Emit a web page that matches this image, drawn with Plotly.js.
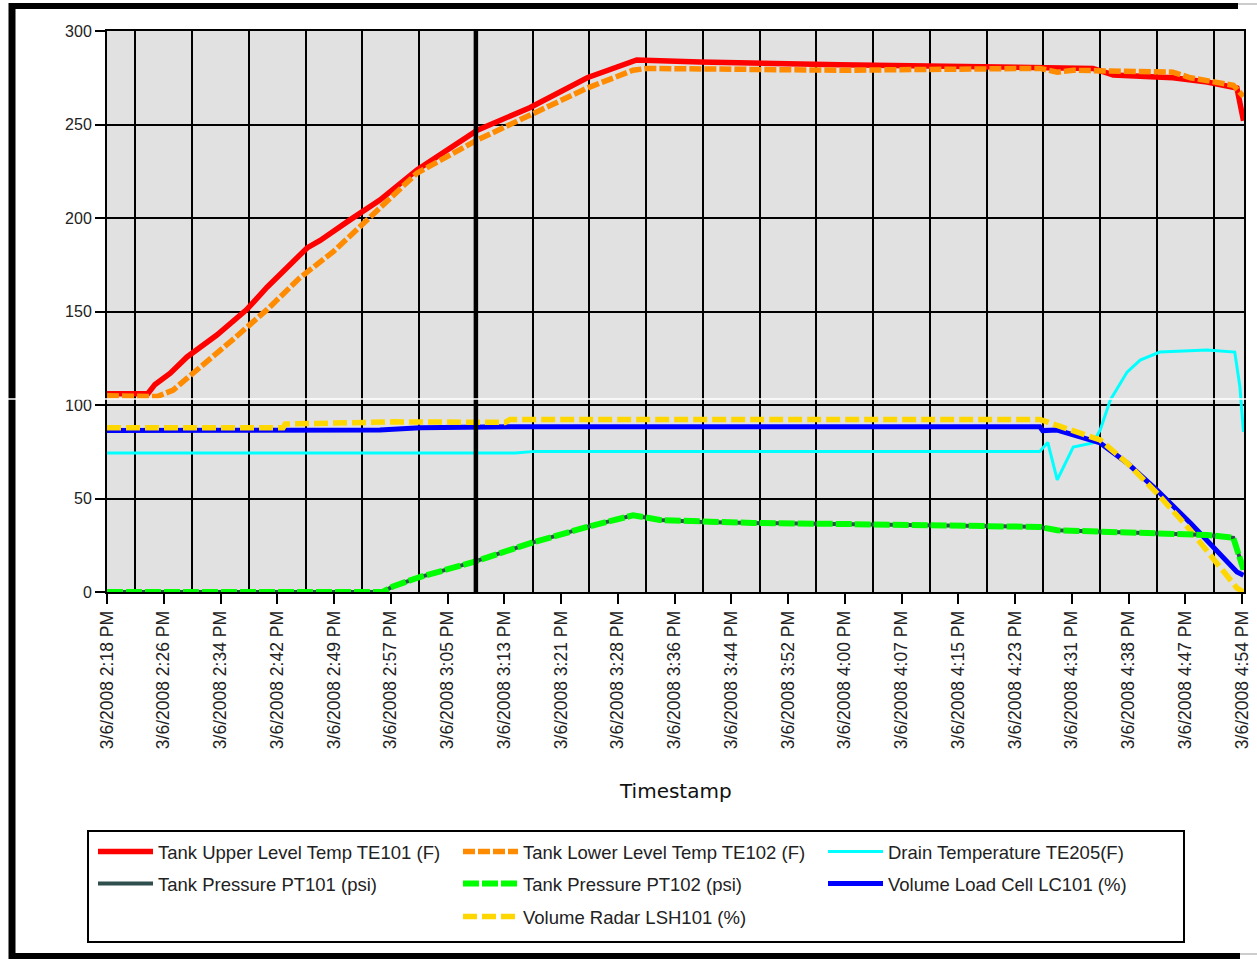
<!DOCTYPE html>
<html><head><meta charset="utf-8">
<script src="https://cdn.plot.ly/plotly-3.0.1.min.js"></script>
<style>html,body{margin:0;padding:0;background:#fff;}#chart{width:1257px;height:959px;}</style>
</head><body><div id="chart"></div>
<script>
// Category tick labels (one every ~7.8 minutes)
const tickLabels = ["3/6/2008 2:18 PM","3/6/2008 2:26 PM","3/6/2008 2:34 PM","3/6/2008 2:42 PM","3/6/2008 2:49 PM","3/6/2008 2:57 PM","3/6/2008 3:05 PM","3/6/2008 3:13 PM","3/6/2008 3:21 PM","3/6/2008 3:28 PM","3/6/2008 3:36 PM","3/6/2008 3:44 PM","3/6/2008 3:52 PM","3/6/2008 4:00 PM","3/6/2008 4:07 PM","3/6/2008 4:15 PM","3/6/2008 4:23 PM","3/6/2008 4:31 PM","3/6/2008 4:38 PM","3/6/2008 4:47 PM","3/6/2008 4:54 PM"];
const minutesPerTick = 7.8;

// Series values; x = minutes after 3/6/2008 2:18 PM
const te101X = [0, 5.6, 6.6, 8.7, 11.0, 15.1, 19.2, 22.0, 27.5, 29.3, 33.4, 37.5, 42.6, 50.9, 58.1, 66.0, 72.8, 81.5, 100.7, 128.2, 135.5, 138.3, 146.5, 151.2, 155.3, 156.2];
const te101Y = [106, 106, 111, 117, 125.7, 137.4, 151, 163, 184, 188, 199, 209.6, 225.7, 247, 259, 275, 284.5, 283.4, 282, 281, 280, 276.5, 275, 272.7, 269.5, 252];

const te102X = [0, 6.9, 9.1, 12.8, 17.3, 22.0, 26.5, 31.1, 35.7, 42.6, 50.9, 58.1, 66.0, 72.3, 74.2, 100.7, 128.2, 130.6, 132.8, 146.5, 148.9, 154.8, 156.2];
const te102Y = [105, 104.5, 108, 120, 135, 151, 168, 182, 199, 224, 241.7, 255, 269.5, 279, 280, 279, 280, 278, 279, 278, 275, 271, 265];

const te205X = [0, 56.1, 58.8, 128.2, 129.3, 130.6, 132.8, 135.5, 136.5, 137.9, 140.2, 142.0, 144.7, 151.2, 155.0, 155.7, 156.2];
const te205Y = [74.3, 74.3, 75.2, 75.2, 80, 60, 77.5, 79.7, 86.6, 102.7, 117.6, 124, 128.3, 129.4, 128.3, 110, 85.6];

const pt101X = [0, 37.9, 39.3, 43.0, 50.3, 58.1, 66.0, 72.3, 76.0, 81.9, 88.8, 100.7, 128.2, 130.6, 142.0, 151.2, 154.8, 155.4, 156.2];
const pt101Y = [0, 0, 3, 8, 16, 26, 34.8, 41, 38.5, 37.4, 36.9, 36.4, 34.8, 33, 31.5, 30.5, 29, 21, 12];

const pt102X = [0, 37.9, 39.3, 43.0, 50.3, 58.1, 66.0, 72.3, 76.0, 81.9, 88.8, 100.7, 128.2, 130.6, 142.0, 151.2, 154.8, 155.4, 156.2];
const pt102Y = [0, 0, 3, 8, 16, 26, 34.8, 41, 38.5, 37.4, 36.9, 36.4, 34.8, 33, 31.5, 30.5, 29, 21, 12];

const lc101X = [0, 37.5, 43.0, 56.1, 128.2, 128.6, 130.6, 136.5, 140.2, 144.3, 148.9, 155.3, 156.2];
const lc101Y = [86.3, 86.6, 87.9, 88.4, 88.4, 86.3, 86.6, 79.7, 69, 54.5, 36.9, 10.7, 9];

const lsh101X = [0, 24.2, 24.5, 39.3, 54.7, 55.4, 128.2, 130.6, 136.5, 140.2, 144.3, 148.9, 155.3, 156.2];
const lsh101Y = [87.9, 87.9, 89.8, 91, 90.7, 92.3, 92.3, 89.3, 81.3, 69, 52.9, 33, 2.1, 0];

// ---- layout helpers (pixel -> paper) ----
const W = 1257, H = 959, L = 107, R = 1244, T = 31, B = 592;
const px = v => (v - L) / (R - L);
const py = v => (B - v) / (B - T);

const tickVals = tickLabels.map((_, i) => i * minutesPerTick);
const gridVals = tickLabels.slice(1).map((_, i) => (i + 0.5) * minutesPerTick);

function tr(name, x, y, color, width, dash, legendId) {
  return {type:'scatter', mode:'lines', name, x, y,
    line:{color, width, dash: dash || 'solid'}, legend: legendId, hoverinfo:'skip'};
}
const traces = [
  tr('Drain Temperature TE205(F)', te205X, te205Y, '#00ffff', 3, null, 'legend3'),
  tr('Volume Load Cell LC101 (%)', lc101X, lc101Y, '#0000ff', 5, null, 'legend6'),
  tr('Volume Radar LSH101 (%)', lsh101X, lsh101Y, '#ffd700', 5.5, '14px,5px', 'legend7'),
  tr('Tank Pressure PT101 (psi)', pt101X, pt101Y, '#2f4f4f', 4, null, 'legend4'),
  tr('Tank Pressure PT102 (psi)', pt102X, pt102Y, '#00ff00', 6, '16px,3px', 'legend5'),
  tr('Tank Upper Level Temp TE101 (F)', te101X, te101Y, '#ff0000', 5.5, null, 'legend'),
  tr('Tank Lower Level Temp TE102 (F)', te102X, te102Y, '#ff8c00', 5.5, '12px,3px', 'legend2')
];

const rowsY = [852, 884, 917];
const colsTextX = [158, 523, 888];
const textGap = 65;
function leg(r, c) {
  return {x: px(colsTextX[c] - textGap), y: py(rowsY[r]), xanchor:'left', yanchor:'middle',
    bgcolor:'rgba(0,0,0,0)', borderwidth:0, itemwidth:55,
    font:{family:'Liberation Sans, Arial, sans-serif', size:18.5, color:'#222'}};
}

const blk = '#000';
const layout = {
  width:W, height:H,
  margin:{l:L, r:W - R, t:T, b:H - B, pad:0},
  paper_bgcolor:'#ffffff', plot_bgcolor:'#e1e1e1',
  font:{family:'Liberation Sans, Arial, sans-serif', color:'#222'},
  showlegend:true,
  legend: leg(0,0), legend2: leg(0,1), legend3: leg(0,2),
  legend4: leg(1,0), legend5: leg(1,1), legend6: leg(1,2),
  legend7: leg(2,1),
  xaxis:{range:[0, 156.27], tickmode:'array', tickvals:tickVals, ticktext:tickLabels,
    tickangle:-90, ticks:'outside', ticklen:10, tickwidth:2, tickcolor:blk,
    showgrid:false, zeroline:false, showline:true, linecolor:blk, linewidth:2, mirror:true,
    tickfont:{size:17.5, color:'#222'},
    minor:{tickmode:'array', tickvals:gridVals, showgrid:true, gridcolor:blk, gridwidth:2, ticks:''}},
  yaxis:{range:[0,300], tickmode:'linear', tick0:0, dtick:50,
    ticks:'outside', ticklen:10, tickwidth:2, tickcolor:blk,
    showgrid:true, gridcolor:blk, gridwidth:2, zeroline:false,
    showline:true, linecolor:blk, linewidth:2, mirror:true,
    tickfont:{size:16, color:'#222'}},
  annotations:[{text:'Timestamp', xref:'paper', yref:'paper', x:0.5, y:py(791),
    xanchor:'center', yanchor:'middle', showarrow:false,
    font:{family:'DejaVu Sans, sans-serif', size:20, color:'#111'}}],
  shapes:[
    {type:'line', xref:'x', yref:'paper', x0:6.5*minutesPerTick, x1:6.5*minutesPerTick, y0:0, y1:1, line:{color:blk, width:4.5}},
    {type:'line', xref:'paper', yref:'paper', x0:px(12), x1:px(12), y0:py(3), y1:py(959), line:{color:blk, width:7}},
    {type:'line', xref:'paper', yref:'paper', x0:px(9), x1:px(1238), y0:py(6), y1:py(6), line:{color:blk, width:6}},
    {type:'line', xref:'paper', yref:'paper', x0:px(1238), x1:px(1257), y0:py(4), y1:py(4), line:{color:'#999', width:1}},
    {type:'line', xref:'paper', yref:'paper', x0:px(9), x1:px(1240), y0:py(956), y1:py(956), line:{color:blk, width:6}},
    {type:'line', xref:'paper', yref:'paper', x0:px(1240), x1:px(1257), y0:py(954), y1:py(954), line:{color:'#999', width:1}},
    {type:'line', xref:'paper', yref:'paper', x0:px(0), x1:px(1257), y0:py(399), y1:py(399), line:{color:'#fff', width:1.5}},
    {type:'rect', xref:'paper', yref:'paper', x0:px(88), x1:px(1184), y0:py(942), y1:py(831), line:{color:blk, width:2}, fillcolor:'rgba(0,0,0,0)'}
  ]
};
Plotly.newPlot('chart', traces, layout, {staticPlot:true, displayModeBar:false});
</script></body></html>
